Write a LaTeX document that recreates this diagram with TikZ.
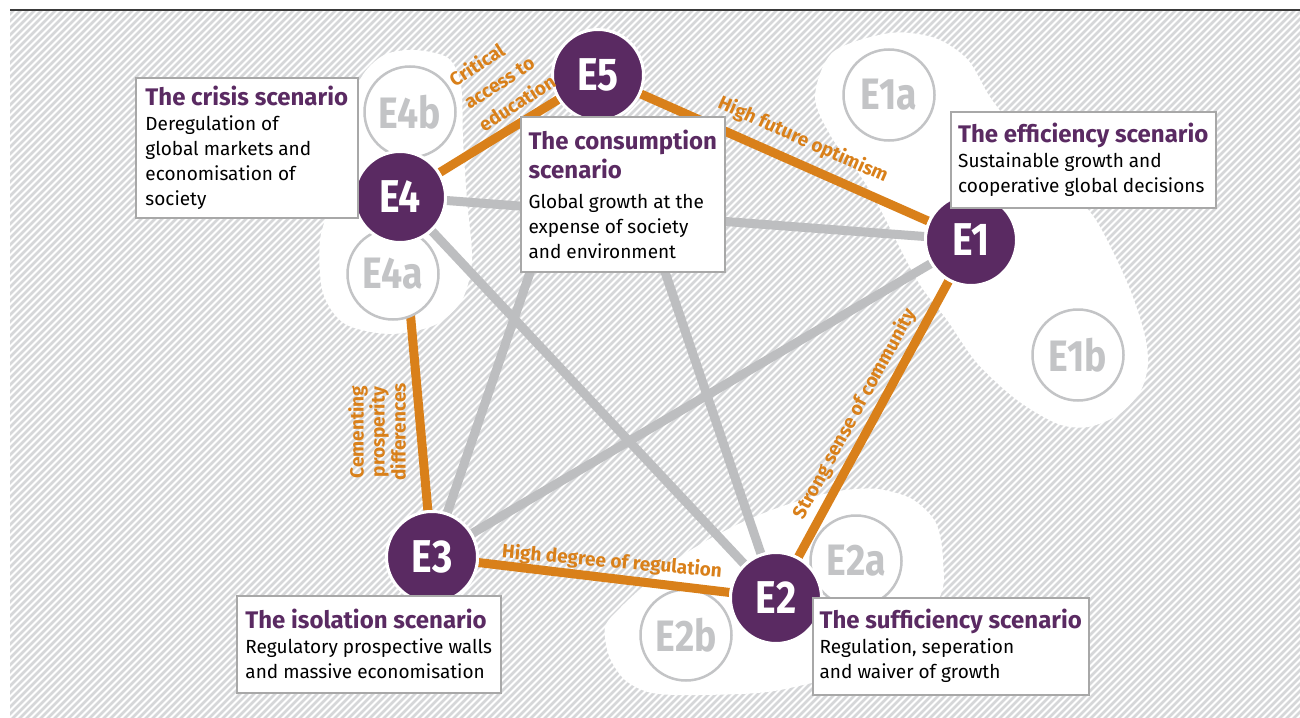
\documentclass[tikz,border=0pt]{standalone}
\usepackage{fontspec}
\setmainfont{Fira Sans}
\newfontfamily\narrowfont[FakeStretch=0.85]{Fira Sans}
\definecolor{scenpurple}{HTML}{5A2A62}
\definecolor{linkorange}{HTML}{D9801A}
\definecolor{linkgray}{HTML}{BDBEC0}
\definecolor{subgray}{HTML}{C3C4C6}
\definecolor{boxgray}{HTML}{A8A8A8}
\definecolor{hatchgray}{HTML}{D6D7D9}
\definecolor{rulegray}{HTML}{3A3A3A}
\pgfdeclarelayer{back}
\pgfdeclarelayer{links}
\pgfsetlayers{back,links,main}
\tikzset{%
   scen/.style={circle, inner sep=0pt, minimum size=91pt, fill=scenpurple, draw=white, line width=3pt, text=white, font=\narrowfont\bfseries\fontsize{46}{46}\selectfont},
   subscen/.style={circle, inner sep=0pt, minimum size=91pt, fill=white, draw=subgray, line width=2.5pt, text=subgray, font=\narrowfont\bfseries\fontsize{44}{44}\selectfont},
   glink/.style={draw=linkgray, line width=9pt},
   olink/.style={draw=linkorange, line width=9pt},
   infobox/.style={anchor=north west, inner sep=0pt, align=left, draw=boxgray, fill=white, line width=1.5pt, font=\fontsize{19}{25}\selectfont},
   linklabel/.style={inner sep=0pt, align=left, text=linkorange, font=\bfseries\fontsize{19}{23}\selectfont},
   hatchline/.style={draw=hatchgray, line width=2.6pt},
   blob/.style={fill=white},
}
\newcommand\boxtitle[1]{{\color{scenpurple}\bfseries\fontsize{24}{25}\selectfont #1}}

\begin{document}
\begin{tikzpicture}[x=1pt, y=-1pt]
   \useasboundingbox (0,0) rectangle (1300,717);
   \begin{pgfonlayer}{back}
      \begin{scope}
         \clip (10,12) rectangle (1300,717);
         \fill[white] (10,12) rectangle (1300,717);
         \foreach \i in {10,17,...,2040}
            \draw[hatchline] (\i,0) -- (\i-740,740);
      \end{scope}
      \draw[rulegray, line width=1.5pt] (10,10) -- (1300,10);
      \fill[blob] plot[smooth cycle] coordinates {(415,50) (448,58) (461,85) (463,140) (467,200) (472,260) (462,300) (435,325) (390,334) (345,324) (323,293) (320,240) (335,190) (352,120) (361,78) (384,55)};
      \fill[blob] plot[smooth cycle] coordinates {(815,97) (833,52) (890,33) (935,38) (968,60) (992,100) (1040,160) (1090,212) (1112,250) (1131,292) (1144,332) (1148,364) (1140,392) (1118,415) (1088,427) (1058,424) (1017,400) (977,363) (947,320) (917,280) (877,203) (855,168) (832,138)};
      \fill[blob] plot[smooth cycle] coordinates {(605,627) (609,656) (625,680) (652,693) (700,695) (780,690) (880,660) (938,600) (943,560) (936,523) (912,499) (878,489) (845,490) (812,497) (780,507) (747,520) (713,537) (680,557) (647,583) (620,608)};
      \node[subscen] (E1a) at (889,95) {E1a};
      \node[subscen] (E1b) at (1078,355) {E1b};
      \node[subscen] (E2a) at (856,561) {E2a};
      \node[subscen] (E2b) at (686,635) {E2b};
   \end{pgfonlayer}
   \node[subscen] (E4b) at (410,112) {E4b};
   \node[subscen] (E4a) at (393,274) {E4a};
   \node[scen] (E5) at (598,75) {E5};
   \node[scen] (E4) at (400,197) {E4};
   \node[scen] (E1) at (971,240) {E1};
   \node[scen] (E3) at (432,557) {E3};
   \node[scen] (E2) at (776,598) {E2};
   \begin{pgfonlayer}{links}
      \foreach \a/\b in {E4/E1, E4/E2, E5/E3, E5/E2, E1/E3}
         \draw[glink] (\a) -- (\b);
      \foreach \a/\b in {E4/E5, E5/E1, E1/E2, E2/E3, E3/E4}
         \draw[olink] (\a) -- (\b);
   \end{pgfonlayer}
   \node[infobox, minimum width=222pt, minimum height=140pt] (crisis) at (135,77)
      {\boxtitle{The crisis scenario}\\Deregulation of\\global markets and\\economisation of\\society};
   \node[infobox, minimum width=204pt, minimum height=155pt] (consumption) at (520,116)
      {\boxtitle{The consumption}\\[4pt]\boxtitle{scenario}\\[5pt]Global growth at the\\expense of society\\and environment};
   \node[infobox, minimum width=265pt, minimum height=96pt] (efficiency) at (950,111)
      {\boxtitle{The efficiency scenario}\\Sustainable growth and\\cooperative global decisions};
   \node[infobox, minimum width=264pt, minimum height=97pt] (isolation) at (236,595)
      {\boxtitle{The isolation scenario}\\Regulatory prospective walls\\and massive economisation};
   \node[infobox, minimum width=276pt, minimum height=97pt] (sufficiency) at (812,597)
      {\boxtitle{The sufficiency scenario}\\Regulation, seperation\\and waiver of growth};
   \node[linklabel, rotate=33, font=\bfseries\fontsize{19}{27}\selectfont] (education) at (502,80) {Critical\\access to\\education};
   \node[linklabel, rotate=-24] (optimism) at (803,140) {High future optimism};
   \node[linklabel, rotate=61.5] (community) at (855,414) {Strong sense of community};
   \node[linklabel, rotate=90, align=center, font=\bfseries\fontsize{19}{21}\selectfont] (prosperity) at (377,432) {Cementing\\prosperity\\differences};
   \node[linklabel, rotate=-5] (regulation) at (612,562) {High degree of regulation};
\end{tikzpicture}
\end{document}
